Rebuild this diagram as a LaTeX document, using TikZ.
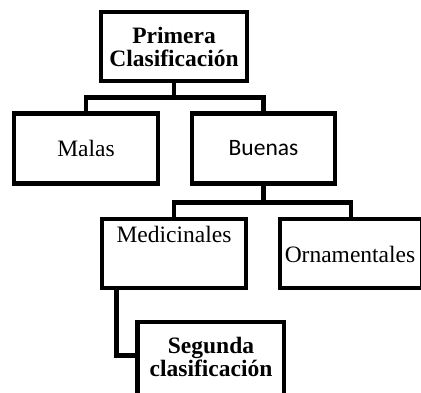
\documentclass[tikz,border=0pt]{standalone}
\usepackage{fontspec}
\setmainfont{Liberation Serif}
\newfontfamily\calfont{Carlito}
\begin{document}
\begin{tikzpicture}[x=1pt,y=-1pt,
  box/.style={draw=black,line width=4.8pt,line join=miter,inner sep=0pt,fill=white},
  txt/.style={font=\fontsize{23.5}{23}\selectfont,align=center,inner sep=0pt},
  conn/.style={draw=black,line width=4.8pt,line join=miter}]
\useasboundingbox (0,0) rectangle (421,393);
\clip (0,0) rectangle (421,393);
% boxes
\node[box,minimum width=146pt,minimum height=69pt] (top) at (174,46.5) {};
\node[box,minimum width=144pt,minimum height=70pt] (malas) at (86,148.5) {};
\node[box,minimum width=143pt,minimum height=70pt] (buenas) at (263.5,148.5) {};
\node[box,minimum width=144pt,minimum height=69pt] (med) at (174,253.5) {};
\node[box,minimum width=142pt,minimum height=69pt] (orn) at (351,253.5) {};
\node[box,minimum width=146.5pt,minimum height=80pt] (seg) at (210.75,362) {};
% texts
\node[txt,font=\fontsize{23.5}{23}\selectfont\bfseries] (ttop) at (top.center) {Primera\\Clasificación};
\node[txt] (tmalas) at (malas.center) {Malas};
\node[txt,font=\fontsize{23.5}{23}\calfont] (tbuenas) at (buenas.center) {Buenas};
\node[txt,anchor=base] (tmed) at (174,243) {Medicinales};
\node[txt,anchor=base] (torn) at (350,262) {Ornamentales};
\node[txt,font=\fontsize{23.5}{23}\selectfont\bfseries,anchor=base] (tseg1) at (211,353) {Segunda};
\node[txt,font=\fontsize{23.5}{23}\selectfont\bfseries,anchor=base] (tseg2) at (211,376) {clasificación};
% connectors
\coordinate (j1) at (174,97.5);
\coordinate (j2) at (263.5,202.5);
\coordinate (elbow) at (116.5,355.5);
\draw[conn] (top.south) -- (top.south |- j1);
\draw[conn] (malas.north) |- (j1) -| (buenas.north);
\draw[conn] (buenas.south) -- (j2);
\draw[conn] (med.north) |- (j2) -| (orn.north);
\draw[conn] (elbow |- med.south) -- (elbow) -- (elbow -| seg.west);
\end{tikzpicture}
\end{document}
